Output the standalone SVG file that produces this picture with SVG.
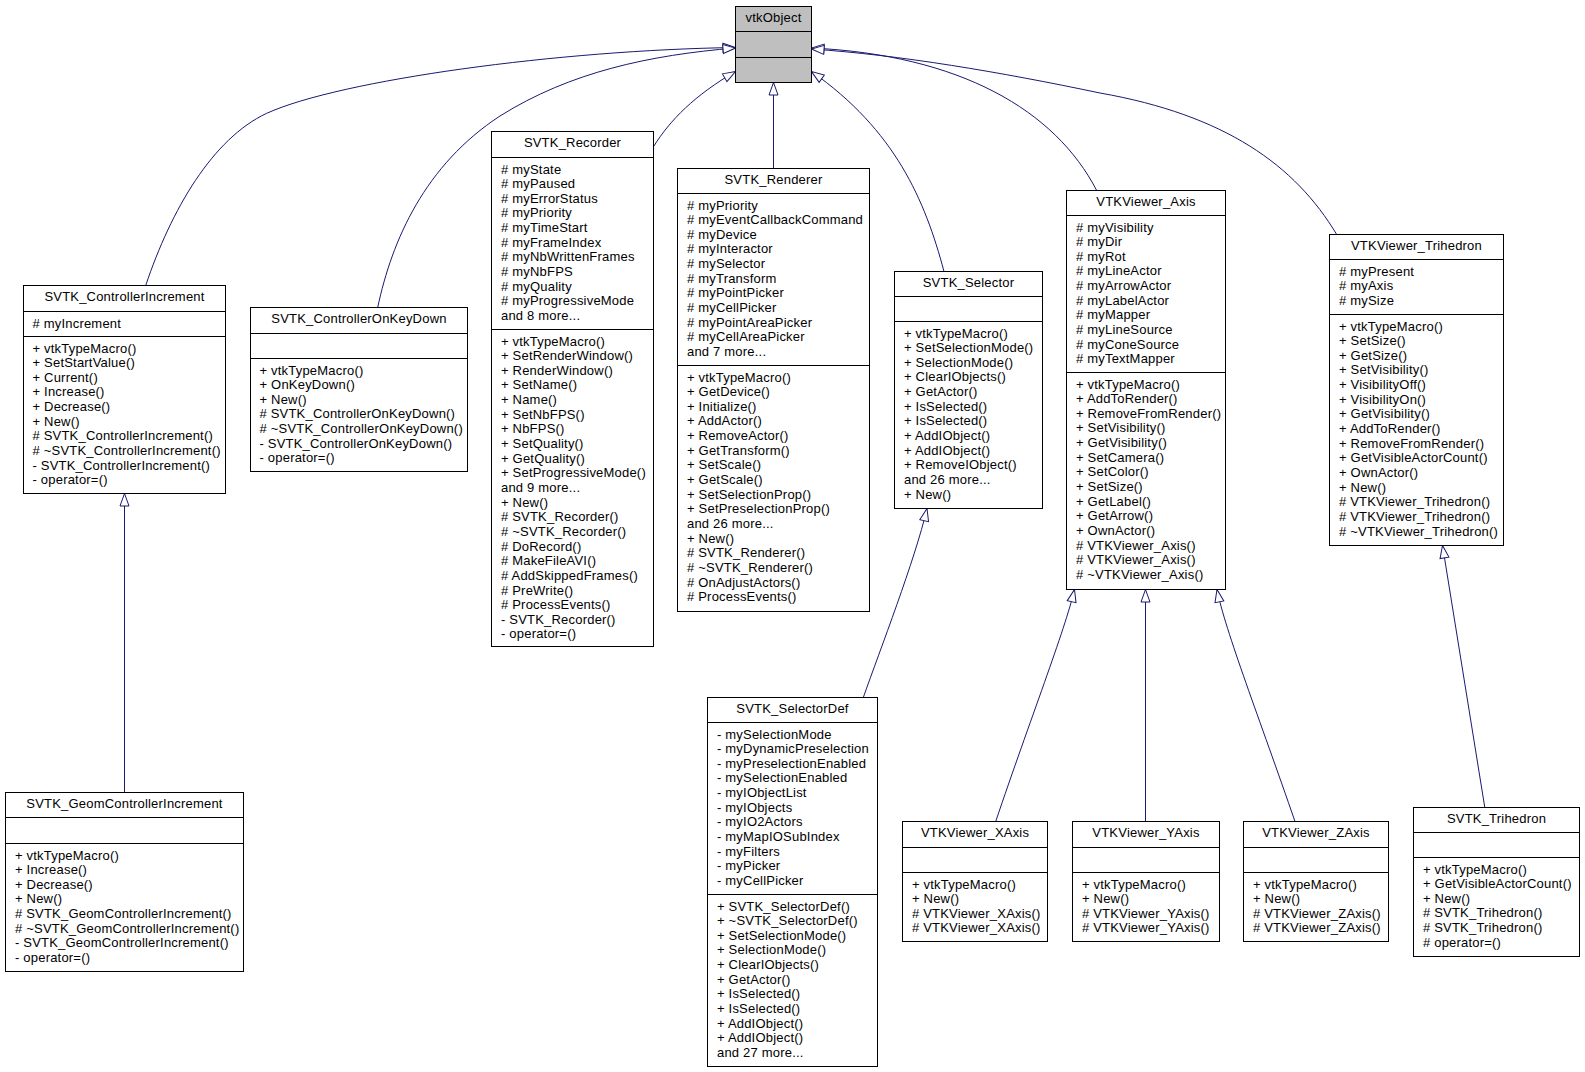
<svg xmlns="http://www.w3.org/2000/svg" width="1585" height="1072" viewBox="0 0 1585 1072">
<defs>
<style>
.bx{fill:#ffffff;stroke:#000000;stroke-width:1}
.ob{fill:#bfbfbf;stroke:#000000;stroke-width:1}
.sp{stroke:#000000;stroke-width:1}
text{font-family:"Liberation Sans",Arial,Helvetica,sans-serif;font-size:13px;letter-spacing:0.2px;fill:#000000}
.t{text-anchor:middle}
.e{fill:none;stroke:#191970;stroke-width:1}
</style>
<marker id="inh" markerUnits="userSpaceOnUse" markerWidth="16" markerHeight="12" refX="13" refY="5" orient="auto" overflow="visible">
<path d="M0.5,0.5 L13,5 L0.5,9.5 Z" fill="#ffffff" stroke="#191970" stroke-width="1"/>
</marker>
</defs>
<rect width="1585" height="1072" fill="#ffffff"/>

<g id="edges">
<path class="e" marker-end="url(#inh)" d="M145.7,285.5 C171.3,209.3 212.7,138.5 266.7,113.3 C340,80 560,50 735.5,47.5"/>
<path class="e" marker-end="url(#inh)" d="M377.7,307.5 C392,240 425,165 500,116 C570,72 650,55 735.5,48"/>
<path class="e" marker-end="url(#inh)" d="M653.5,146.7 C670,120 695,95 735.5,71.5"/>
<path class="e" marker-end="url(#inh)" d="M773.5,168.5 L773.5,82.5"/>
<path class="e" marker-end="url(#inh)" d="M944,271.5 C925,200 895,130 811.5,71.5"/>
<path class="e" marker-end="url(#inh)" d="M1096.7,190.5 C1055,110 960,55 811.5,48"/>
<path class="e" marker-end="url(#inh)" d="M1336.7,234.5 C1295,165 1225,115 1100,93 C1000,72 900,55 811.5,49"/>
<path class="e" marker-end="url(#inh)" d="M124.5,792.5 L124.5,493.5"/>
<path class="e" marker-end="url(#inh)" d="M863.3,697.5 C880,650 915,560 927,508.5"/>
<path class="e" marker-end="url(#inh)" d="M995.7,821.5 C1030,720 1065,630 1074.5,589.5"/>
<path class="e" marker-end="url(#inh)" d="M1145.5,821.5 L1145.5,589.5"/>
<path class="e" marker-end="url(#inh)" d="M1295,821.5 C1260,720 1225,630 1217,589.5"/>
<path class="e" marker-end="url(#inh)" d="M1484.8,807.5 L1442.5,545.5"/>
</g>

<g id="vtkObject">
<rect class="ob" x="735.5" y="6.5" width="76" height="76"/>
<line class="sp" x1="735.5" y1="31.5" x2="811.5" y2="31.5"/>
<line class="sp" x1="735.5" y1="57.5" x2="811.5" y2="57.5"/>
<text class="t" x="773.5" y="22.2">vtkObject</text>
</g>

<g id="SVTK_ControllerIncrement">
<rect class="bx" x="23.5" y="285.5" width="202" height="208"/>
<line class="sp" x1="23.5" y1="311.5" x2="225.5" y2="311.5"/>
<line class="sp" x1="23.5" y1="336.5" x2="225.5" y2="336.5"/>
<text class="t" x="124.5" y="301.2">SVTK_ControllerIncrement</text>
<text x="32.5" y="327.5"># myIncrement</text>
<text y="352.5"><tspan x="32.5">+ vtkTypeMacro()</tspan><tspan x="32.5" dy="14.65">+ SetStartValue()</tspan><tspan x="32.5" dy="14.65">+ Current()</tspan><tspan x="32.5" dy="14.65">+ Increase()</tspan><tspan x="32.5" dy="14.65">+ Decrease()</tspan><tspan x="32.5" dy="14.65">+ New()</tspan><tspan x="32.5" dy="14.65"># SVTK_ControllerIncrement()</tspan><tspan x="32.5" dy="14.65"># ~SVTK_ControllerIncrement()</tspan><tspan x="32.5" dy="14.65">- SVTK_ControllerIncrement()</tspan><tspan x="32.5" dy="14.65">- operator=()</tspan></text>
</g>

<g id="SVTK_ControllerOnKeyDown">
<rect class="bx" x="250.5" y="307.5" width="217" height="164"/>
<line class="sp" x1="250.5" y1="333.5" x2="467.5" y2="333.5"/>
<line class="sp" x1="250.5" y1="358.5" x2="467.5" y2="358.5"/>
<text class="t" x="359" y="323.2">SVTK_ControllerOnKeyDown</text>
<text y="374.5"><tspan x="259.5">+ vtkTypeMacro()</tspan><tspan x="259.5" dy="14.65">+ OnKeyDown()</tspan><tspan x="259.5" dy="14.65">+ New()</tspan><tspan x="259.5" dy="14.65"># SVTK_ControllerOnKeyDown()</tspan><tspan x="259.5" dy="14.65"># ~SVTK_ControllerOnKeyDown()</tspan><tspan x="259.5" dy="14.65">- SVTK_ControllerOnKeyDown()</tspan><tspan x="259.5" dy="14.65">- operator=()</tspan></text>
</g>

<g id="SVTK_Recorder">
<rect class="bx" x="491.5" y="131.5" width="162" height="515"/>
<line class="sp" x1="491.5" y1="157.5" x2="653.5" y2="157.5"/>
<line class="sp" x1="491.5" y1="329.5" x2="653.5" y2="329.5"/>
<text class="t" x="572.5" y="147.2">SVTK_Recorder</text>
<text y="173.5"><tspan x="501">#&#160;myState</tspan><tspan x="501" dy="14.65"># myPaused</tspan><tspan x="501" dy="14.65"># myErrorStatus</tspan><tspan x="501" dy="14.65"># myPriority</tspan><tspan x="501" dy="14.65"># myTimeStart</tspan><tspan x="501" dy="14.65"># myFrameIndex</tspan><tspan x="501" dy="14.65"># myNbWrittenFrames</tspan><tspan x="501" dy="14.65"># myNbFPS</tspan><tspan x="501" dy="14.65"># myQuality</tspan><tspan x="501" dy="14.65"># myProgressiveMode</tspan><tspan x="501" dy="14.65">and 8 more...</tspan></text>
<text y="345.5"><tspan x="501">+ vtkTypeMacro()</tspan><tspan x="501" dy="14.65">+ SetRenderWindow()</tspan><tspan x="501" dy="14.65">+ RenderWindow()</tspan><tspan x="501" dy="14.65">+ SetName()</tspan><tspan x="501" dy="14.65">+ Name()</tspan><tspan x="501" dy="14.65">+ SetNbFPS()</tspan><tspan x="501" dy="14.65">+ NbFPS()</tspan><tspan x="501" dy="14.65">+ SetQuality()</tspan><tspan x="501" dy="14.65">+ GetQuality()</tspan><tspan x="501" dy="14.65">+ SetProgressiveMode()</tspan><tspan x="501" dy="14.65">and 9 more...</tspan><tspan x="501" dy="14.65">+ New()</tspan><tspan x="501" dy="14.65"># SVTK_Recorder()</tspan><tspan x="501" dy="14.65"># ~SVTK_Recorder()</tspan><tspan x="501" dy="14.65"># DoRecord()</tspan><tspan x="501" dy="14.65"># MakeFileAVI()</tspan><tspan x="501" dy="14.65"># AddSkippedFrames()</tspan><tspan x="501" dy="14.65"># PreWrite()</tspan><tspan x="501" dy="14.65"># ProcessEvents()</tspan><tspan x="501" dy="14.65">- SVTK_Recorder()</tspan><tspan x="501" dy="14.65">- operator=()</tspan></text>
</g>

<g id="SVTK_Renderer">
<rect class="bx" x="677.5" y="168.5" width="192" height="443"/>
<line class="sp" x1="677.5" y1="193.5" x2="869.5" y2="193.5"/>
<line class="sp" x1="677.5" y1="365.5" x2="869.5" y2="365.5"/>
<text class="t" x="773.5" y="184">SVTK_Renderer</text>
<text y="209.5"><tspan x="687">#&#160;myPriority</tspan><tspan x="687" dy="14.65"># myEventCallbackCommand</tspan><tspan x="687" dy="14.65"># myDevice</tspan><tspan x="687" dy="14.65"># myInteractor</tspan><tspan x="687" dy="14.65"># mySelector</tspan><tspan x="687" dy="14.65"># myTransform</tspan><tspan x="687" dy="14.65"># myPointPicker</tspan><tspan x="687" dy="14.65"># myCellPicker</tspan><tspan x="687" dy="14.65"># myPointAreaPicker</tspan><tspan x="687" dy="14.65"># myCellAreaPicker</tspan><tspan x="687" dy="14.65">and 7 more...</tspan></text>
<text y="381.5"><tspan x="687">+ vtkTypeMacro()</tspan><tspan x="687" dy="14.65">+ GetDevice()</tspan><tspan x="687" dy="14.65">+ Initialize()</tspan><tspan x="687" dy="14.65">+ AddActor()</tspan><tspan x="687" dy="14.65">+ RemoveActor()</tspan><tspan x="687" dy="14.65">+ GetTransform()</tspan><tspan x="687" dy="14.65">+ SetScale()</tspan><tspan x="687" dy="14.65">+ GetScale()</tspan><tspan x="687" dy="14.65">+ SetSelectionProp()</tspan><tspan x="687" dy="14.65">+ SetPreselectionProp()</tspan><tspan x="687" dy="14.65">and 26 more...</tspan><tspan x="687" dy="14.65">+ New()</tspan><tspan x="687" dy="14.65"># SVTK_Renderer()</tspan><tspan x="687" dy="14.65"># ~SVTK_Renderer()</tspan><tspan x="687" dy="14.65"># OnAdjustActors()</tspan><tspan x="687" dy="14.65"># ProcessEvents()</tspan></text>
</g>

<g id="SVTK_Selector">
<rect class="bx" x="894.5" y="271.5" width="148" height="237"/>
<line class="sp" x1="894.5" y1="296.5" x2="1042.5" y2="296.5"/>
<line class="sp" x1="894.5" y1="321.5" x2="1042.5" y2="321.5"/>
<text class="t" x="968.5" y="287">SVTK_Selector</text>
<text y="337.5"><tspan x="904">+ vtkTypeMacro()</tspan><tspan x="904" dy="14.65">+ SetSelectionMode()</tspan><tspan x="904" dy="14.65">+ SelectionMode()</tspan><tspan x="904" dy="14.65">+ ClearIObjects()</tspan><tspan x="904" dy="14.65">+ GetActor()</tspan><tspan x="904" dy="14.65">+ IsSelected()</tspan><tspan x="904" dy="14.65">+ IsSelected()</tspan><tspan x="904" dy="14.65">+ AddIObject()</tspan><tspan x="904" dy="14.65">+ AddIObject()</tspan><tspan x="904" dy="14.65">+ RemoveIObject()</tspan><tspan x="904" dy="14.65">and 26 more...</tspan><tspan x="904" dy="14.65">+ New()</tspan></text>
</g>

<g id="VTKViewer_Axis">
<rect class="bx" x="1066.5" y="190.5" width="159" height="399"/>
<line class="sp" x1="1066.5" y1="215.5" x2="1225.5" y2="215.5"/>
<line class="sp" x1="1066.5" y1="372.5" x2="1225.5" y2="372.5"/>
<text class="t" x="1146" y="206">VTKViewer_Axis</text>
<text y="231.5"><tspan x="1076">#&#160;myVisibility</tspan><tspan x="1076" dy="14.65"># myDir</tspan><tspan x="1076" dy="14.65"># myRot</tspan><tspan x="1076" dy="14.65"># myLineActor</tspan><tspan x="1076" dy="14.65"># myArrowActor</tspan><tspan x="1076" dy="14.65"># myLabelActor</tspan><tspan x="1076" dy="14.65"># myMapper</tspan><tspan x="1076" dy="14.65"># myLineSource</tspan><tspan x="1076" dy="14.65"># myConeSource</tspan><tspan x="1076" dy="14.65"># myTextMapper</tspan></text>
<text y="388.5"><tspan x="1076">+ vtkTypeMacro()</tspan><tspan x="1076" dy="14.65">+ AddToRender()</tspan><tspan x="1076" dy="14.65">+ RemoveFromRender()</tspan><tspan x="1076" dy="14.65">+ SetVisibility()</tspan><tspan x="1076" dy="14.65">+ GetVisibility()</tspan><tspan x="1076" dy="14.65">+ SetCamera()</tspan><tspan x="1076" dy="14.65">+ SetColor()</tspan><tspan x="1076" dy="14.65">+ SetSize()</tspan><tspan x="1076" dy="14.65">+ GetLabel()</tspan><tspan x="1076" dy="14.65">+ GetArrow()</tspan><tspan x="1076" dy="14.65">+ OwnActor()</tspan><tspan x="1076" dy="14.65"># VTKViewer_Axis()</tspan><tspan x="1076" dy="14.65"># VTKViewer_Axis()</tspan><tspan x="1076" dy="14.65"># ~VTKViewer_Axis()</tspan></text>
</g>

<g id="VTKViewer_Trihedron">
<rect class="bx" x="1329.5" y="234.5" width="174" height="311"/>
<line class="sp" x1="1329.5" y1="259.5" x2="1503.5" y2="259.5"/>
<line class="sp" x1="1329.5" y1="314.5" x2="1503.5" y2="314.5"/>
<text class="t" x="1416.5" y="250">VTKViewer_Trihedron</text>
<text y="275.5"><tspan x="1339">#&#160;myPresent</tspan><tspan x="1339" dy="14.65"># myAxis</tspan><tspan x="1339" dy="14.65"># mySize</tspan></text>
<text y="330.5"><tspan x="1339">+ vtkTypeMacro()</tspan><tspan x="1339" dy="14.65">+ SetSize()</tspan><tspan x="1339" dy="14.65">+ GetSize()</tspan><tspan x="1339" dy="14.65">+ SetVisibility()</tspan><tspan x="1339" dy="14.65">+ VisibilityOff()</tspan><tspan x="1339" dy="14.65">+ VisibilityOn()</tspan><tspan x="1339" dy="14.65">+ GetVisibility()</tspan><tspan x="1339" dy="14.65">+ AddToRender()</tspan><tspan x="1339" dy="14.65">+ RemoveFromRender()</tspan><tspan x="1339" dy="14.65">+ GetVisibleActorCount()</tspan><tspan x="1339" dy="14.65">+ OwnActor()</tspan><tspan x="1339" dy="14.65">+ New()</tspan><tspan x="1339" dy="14.65"># VTKViewer_Trihedron()</tspan><tspan x="1339" dy="14.65"># VTKViewer_Trihedron()</tspan><tspan x="1339" dy="14.65"># ~VTKViewer_Trihedron()</tspan></text>
</g>

<g id="SVTK_GeomControllerIncrement">
<rect class="bx" x="5.5" y="792.5" width="238" height="179"/>
<line class="sp" x1="5.5" y1="817.5" x2="243.5" y2="817.5"/>
<line class="sp" x1="5.5" y1="843.5" x2="243.5" y2="843.5"/>
<text class="t" x="124.5" y="808">SVTK_GeomControllerIncrement</text>
<text y="859.5"><tspan x="15">+ vtkTypeMacro()</tspan><tspan x="15" dy="14.65">+ Increase()</tspan><tspan x="15" dy="14.65">+ Decrease()</tspan><tspan x="15" dy="14.65">+ New()</tspan><tspan x="15" dy="14.65"># SVTK_GeomControllerIncrement()</tspan><tspan x="15" dy="14.65"># ~SVTK_GeomControllerIncrement()</tspan><tspan x="15" dy="14.65">- SVTK_GeomControllerIncrement()</tspan><tspan x="15" dy="14.65">- operator=()</tspan></text>
</g>

<g id="SVTK_SelectorDef">
<rect class="bx" x="707.5" y="697.5" width="170" height="369"/>
<line class="sp" x1="707.5" y1="722.5" x2="877.5" y2="722.5"/>
<line class="sp" x1="707.5" y1="894.5" x2="877.5" y2="894.5"/>
<text class="t" x="792.5" y="713">SVTK_SelectorDef</text>
<text y="738.5"><tspan x="717">- mySelectionMode</tspan><tspan x="717" dy="14.65">- myDynamicPreselection</tspan><tspan x="717" dy="14.65">- myPreselectionEnabled</tspan><tspan x="717" dy="14.65">- mySelectionEnabled</tspan><tspan x="717" dy="14.65">- myIObjectList</tspan><tspan x="717" dy="14.65">- myIObjects</tspan><tspan x="717" dy="14.65">- myIO2Actors</tspan><tspan x="717" dy="14.65">- myMapIOSubIndex</tspan><tspan x="717" dy="14.65">- myFilters</tspan><tspan x="717" dy="14.65">- myPicker</tspan><tspan x="717" dy="14.65">- myCellPicker</tspan></text>
<text y="910.5"><tspan x="717">+ SVTK_SelectorDef()</tspan><tspan x="717" dy="14.65">+ ~SVTK_SelectorDef()</tspan><tspan x="717" dy="14.65">+ SetSelectionMode()</tspan><tspan x="717" dy="14.65">+ SelectionMode()</tspan><tspan x="717" dy="14.65">+ ClearIObjects()</tspan><tspan x="717" dy="14.65">+ GetActor()</tspan><tspan x="717" dy="14.65">+ IsSelected()</tspan><tspan x="717" dy="14.65">+ IsSelected()</tspan><tspan x="717" dy="14.65">+ AddIObject()</tspan><tspan x="717" dy="14.65">+ AddIObject()</tspan><tspan x="717" dy="14.65">and 27 more...</tspan></text>
</g>

<g id="VTKViewer_XAxis">
<rect class="bx" x="902.5" y="821.5" width="145" height="120"/>
<line class="sp" x1="902.5" y1="847.5" x2="1047.5" y2="847.5"/>
<line class="sp" x1="902.5" y1="872.5" x2="1047.5" y2="872.5"/>
<text class="t" x="975" y="837.2">VTKViewer_XAxis</text>
<text y="888.5"><tspan x="912">+ vtkTypeMacro()</tspan><tspan x="912" dy="14.65">+ New()</tspan><tspan x="912" dy="14.65"># VTKViewer_XAxis()</tspan><tspan x="912" dy="14.65"># VTKViewer_XAxis()</tspan></text>
</g>

<g id="VTKViewer_YAxis">
<rect class="bx" x="1072.5" y="821.5" width="147" height="120"/>
<line class="sp" x1="1072.5" y1="847.5" x2="1219.5" y2="847.5"/>
<line class="sp" x1="1072.5" y1="872.5" x2="1219.5" y2="872.5"/>
<text class="t" x="1146" y="837.2">VTKViewer_YAxis</text>
<text y="888.5"><tspan x="1082">+ vtkTypeMacro()</tspan><tspan x="1082" dy="14.65">+ New()</tspan><tspan x="1082" dy="14.65"># VTKViewer_YAxis()</tspan><tspan x="1082" dy="14.65"># VTKViewer_YAxis()</tspan></text>
</g>

<g id="VTKViewer_ZAxis">
<rect class="bx" x="1243.5" y="821.5" width="145" height="120"/>
<line class="sp" x1="1243.5" y1="847.5" x2="1388.5" y2="847.5"/>
<line class="sp" x1="1243.5" y1="872.5" x2="1388.5" y2="872.5"/>
<text class="t" x="1316" y="837.2">VTKViewer_ZAxis</text>
<text y="888.5"><tspan x="1253">+ vtkTypeMacro()</tspan><tspan x="1253" dy="14.65">+ New()</tspan><tspan x="1253" dy="14.65"># VTKViewer_ZAxis()</tspan><tspan x="1253" dy="14.65"># VTKViewer_ZAxis()</tspan></text>
</g>

<g id="SVTK_Trihedron">
<rect class="bx" x="1413.5" y="807.5" width="166" height="149"/>
<line class="sp" x1="1413.5" y1="832.5" x2="1579.5" y2="832.5"/>
<line class="sp" x1="1413.5" y1="857.5" x2="1579.5" y2="857.5"/>
<text class="t" x="1496.5" y="823">SVTK_Trihedron</text>
<text y="873.5"><tspan x="1423">+ vtkTypeMacro()</tspan><tspan x="1423" dy="14.65">+ GetVisibleActorCount()</tspan><tspan x="1423" dy="14.65">+ New()</tspan><tspan x="1423" dy="14.65"># SVTK_Trihedron()</tspan><tspan x="1423" dy="14.65"># SVTK_Trihedron()</tspan><tspan x="1423" dy="14.65"># operator=()</tspan></text>
</g>
</svg>
